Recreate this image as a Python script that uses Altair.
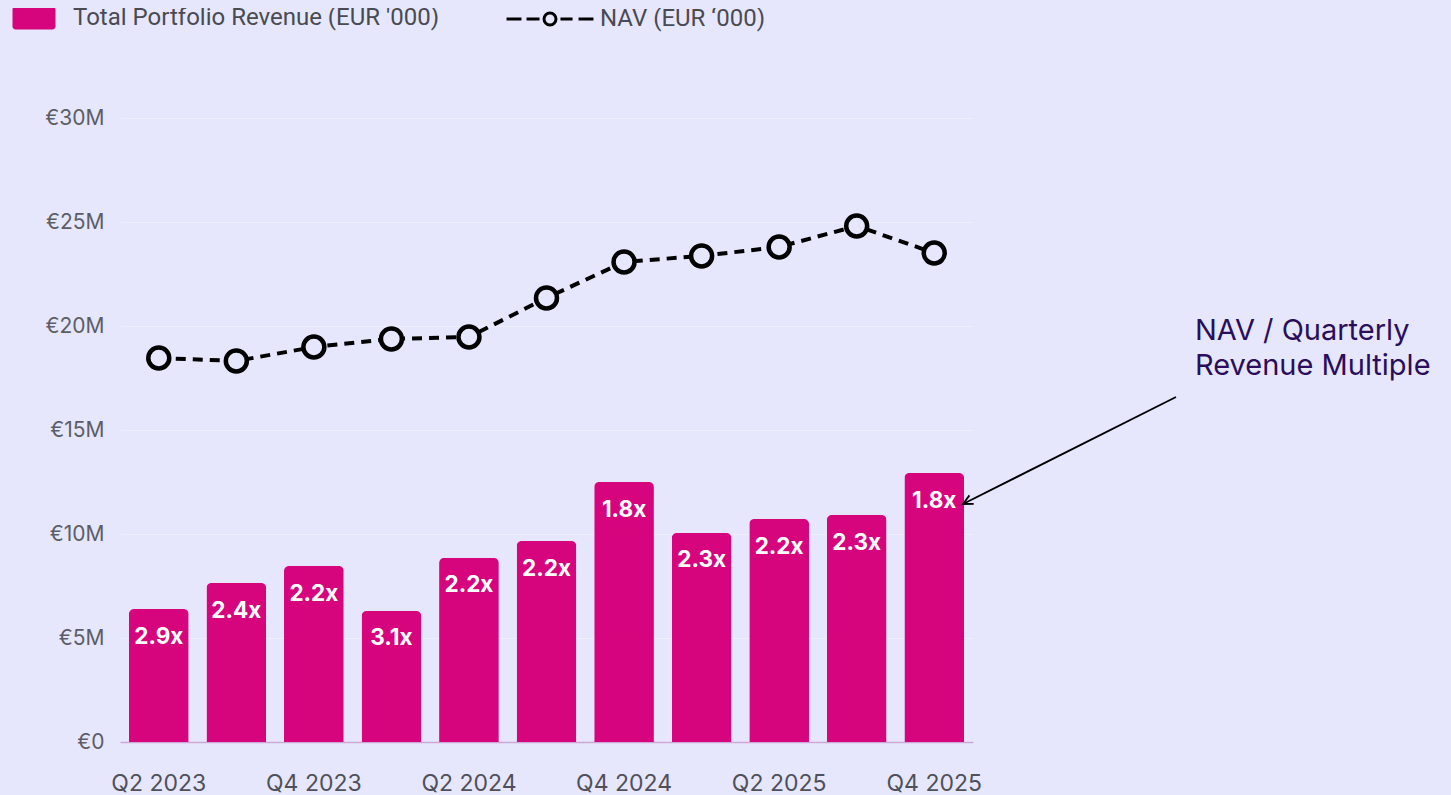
import altair as alt
import pandas as pd
import jinja2

# ---- data ----
quarters = ["Q2 2023", "Q3 2023", "Q4 2023", "Q1 2024", "Q2 2024", "Q3 2024",
            "Q4 2024", "Q1 2025", "Q2 2025", "Q3 2025", "Q4 2025"]
revenue_m = [6.39, 7.64, 8.46, 6.30, 8.85, 9.66, 12.50, 10.05, 10.72, 10.91, 12.93]
nav_m = [18.46, 18.32, 18.99, 19.38, 19.47, 21.35, 23.08, 23.37, 23.80, 24.81, 23.51]
multiples = ["2.9x", "2.4x", "2.2x", "3.1x", "2.2x", "2.2x", "1.8x", "2.3x", "2.2x", "2.3x", "1.8x"]
shown_quarters = ["Q2 2023", "Q4 2023", "Q2 2024", "Q4 2024", "Q2 2025", "Q4 2025"]
y_ticks = [0, 5, 10, 15, 20, 25, 30]
revenue_label = "Total Portfolio Revenue (EUR '000)"
nav_label = "NAV (EUR \u2018000)"
annotation_lines = ["NAV / Quarterly", "Revenue Multiple"]

BG = "#E6E7FD"
PINK = "#D6057D"

df = pd.DataFrame({
    "quarter": quarters,
    "revenue": revenue_m,
    "nav": nav_m,
    "multiple": multiples,
    "rev_series": [revenue_label] * len(quarters),
    "nav_series": [nav_label] * len(quarters),
})
one = pd.DataFrame({"k": [0]})

RECT_PATH = ("M-1.61,-1H1.61A0.26,0.26,0,0,1,1.87,-0.74V0.74A0.26,0.26,0,0,1,1.61,1"
             "H-1.61A0.26,0.26,0,0,1,-1.87,0.74V-0.74A0.26,0.26,0,0,1,-1.61,-1Z")
NAV_PATH = ("M-3.78,0H-2.48M-2.04,0H-0.91M0.91,0H1.96M2.48,0H3.78"
            "M-0.52,0A0.52,0.52,0,1,1,0.52,0A0.52,0.52,0,1,1,-0.52,0Z")

x_enc = alt.X(
    "quarter:N", sort=quarters,
    scale=alt.Scale(paddingInner=0.23, paddingOuter=0.115),
    axis=alt.Axis(values=shown_quarters, title=None, labelAngle=0, ticks=False,
                  domainColor="#CDA8D6", domainWidth=1.5, grid=False,
                  labelFont="Inter", labelFontSize=23, labelColor="#50505A",
                  labelBaseline="middle", labelPadding=41),
)
y_scale = alt.Scale(domain=[0, 30], nice=False)
y_axis = alt.Axis(values=y_ticks, title=None, ticks=False, domain=False,
                  labelExpr="datum.value == 0 ? '\u20ac0' : '\u20ac' + datum.value + 'M'",
                  labelFont="Inter", labelFontSize=21, labelColor="#5D5D68",
                  labelPadding=16, gridColor="#EEEFFD", gridWidth=1)

base = alt.Chart(df)

bars = base.mark_bar(cornerRadiusTopLeft=5, cornerRadiusTopRight=5).encode(
    x=x_enc,
    y=alt.Y("revenue:Q", scale=y_scale, axis=y_axis),
    fill=alt.Fill("rev_series:N",
                  scale=alt.Scale(domain=[revenue_label], range=[PINK]),
                  legend=alt.Legend(orient="none", legendX=-98, legendY=-112, title=None,
                                    symbolType=RECT_PATH, symbolSize=529, symbolStrokeWidth=0,
                                    labelOffset=27, labelFont="Roboto", labelFontSize=24,
                                    labelColor="#4A4A52", labelLimit=600, padding=0)),
)

labels = base.mark_text(dy=27.5, color="white", font="Inter", fontSize=22.5,
                        fontWeight="bold", baseline="middle").encode(
    x=x_enc, y=alt.Y("revenue:Q", scale=y_scale), text="multiple:N")

line = base.mark_line(strokeWidth=4, strokeDash=[10, 7]).encode(
    x=x_enc,
    y=alt.Y("nav:Q", scale=y_scale),
    stroke=alt.Stroke("nav_series:N",
                      scale=alt.Scale(domain=[nav_label], range=["#000000"]),
                      legend=alt.Legend(orient="none", legendX=417, legendY=-112, title=None,
                                        symbolType=NAV_PATH, symbolSize=529,
                                        symbolStrokeWidth=3, symbolFillColor="transparent",
                                        symbolDash=[1000, 0],
                                        labelOffset=37, labelFont="Roboto", labelFontSize=24,
                                        labelColor="#4A4A52", labelLimit=600, padding=0)),
)

points = base.mark_point(shape="circle", filled=True, fill=BG, stroke="black",
                         strokeWidth=4.5, size=440, opacity=1).encode(
    x=x_enc, y=alt.Y("nav:Q", scale=y_scale))

note = alt.Chart(one).mark_text(text=annotation_lines, align="left", baseline="alphabetic",
                                font="Inter", fontSize=29, lineHeight=35,
                                color="#2A0E5C").encode(
    x=alt.value(1075), y=alt.value(222))

arrow_line = alt.Chart(one).mark_rule(color="black", strokeWidth=1.8).encode(
    x=alt.value(1056), y=alt.value(279), x2=alt.value(843), y2=alt.value(386))

arrow_head = alt.Chart(one).mark_point(shape="M-1.6,-0.8L0,0L-1.6,0.8", angle=153.3,
                                       size=144, filled=False, stroke="black",
                                       strokeWidth=1.8, opacity=1).encode(
    x=alt.value(843), y=alt.value(386))

chart = alt.layer(bars, labels, line, points, note, arrow_line, arrow_head).resolve_scale(
    fill="independent", stroke="independent"
).properties(
    width=853, height=624, autosize="none",
    padding={"left": 112, "top": 115, "right": 470, "bottom": 60},
).configure(background=BG).configure_view(strokeWidth=0)

PAGE_TEMPLATE = jinja2.Template("""<!DOCTYPE html>
<html>
<head>
  <meta charset="utf-8">
  <style>
    html, body { background: """ + BG + """; overflow: hidden; }
    #{{ output_div }}.vega-embed { width: 100%; display: flex; margin-top: -5px; }
  </style>
  <script type="text/javascript" src="{{ base_url }}/vega@{{ vega_version }}"></script>
  <script type="text/javascript" src="{{ base_url }}/vega-lite@{{ vegalite_version }}"></script>
  <script type="text/javascript" src="{{ base_url }}/vega-embed@{{ vegaembed_version }}"></script>
</head>
<body>
  <div id="{{ output_div }}"></div>
  <script>
    (function(vegaEmbed) {
      var spec = {{ spec }};
      var embedOpt = {{ embed_options }};
      const el = document.getElementById('{{ output_div }}');
      vegaEmbed("#{{ output_div }}", spec, embedOpt).catch(function(error) {
        el.innerHTML = '<div style="color:red;"><p>JavaScript Error: ' + error.message + '</p></div>';
        throw error;
      });
    })(vegaEmbed);
  </script>
</body>
</html>
""")

try:
    chart.save("out.html", embed_options={"renderer": "svg", "actions": False},
               template=PAGE_TEMPLATE)
except Exception:
    chart.save("out.html", embed_options={"renderer": "svg", "actions": False})
